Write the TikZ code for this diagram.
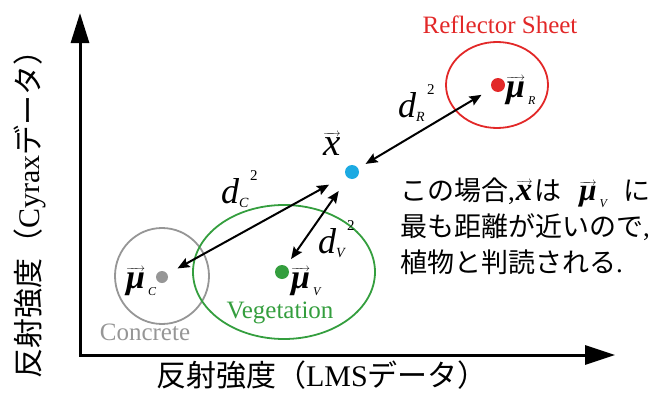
\documentclass[tikz,border=0pt]{standalone}
\usepackage{fontspec}
\setmainfont{Liberation Serif}
\newfontfamily\jp{Noto Sans CJK JP}
\usetikzlibrary{arrows.meta,shapes.geometric}
\definecolor{refred}{RGB}{226,40,40}
\definecolor{veggreen}{RGB}{52,158,62}
\definecolor{congray}{RGB}{150,150,150}
\definecolor{ptblue}{RGB}{28,170,226}
\newcommand\vecsym[1]{\leavevmode\vbox{\offinterlineskip\halign{##\cr{\fontsize{11}{11}\selectfont\rightarrowfill}\cr\noalign{\kern0.5pt}\hbox{#1}\cr}}}
\newcommand\mulab[1]{\vecsym{\bfseries\itshape μ}\kern3pt\raisebox{-7pt}{\fontsize{12}{12}\selectfont\itshape #1}}
\newcommand\dlab[1]{{\itshape d}\rlap{\raisebox{-4pt}{\fontsize{14}{14}\selectfont\itshape #1}}\hspace{11pt}\raisebox{23pt}{\fontsize{15}{15}\selectfont 2}}
\tikzset{
  dot/.style={circle, inner sep=0pt, minimum size=14pt},
  region/.style={ellipse, draw, inner sep=0pt, line width=1.8pt},
  dist/.style={line width=2pt, >={Stealth[length=12pt,width=10pt,inset=2pt]}, <->},
  axis/.style={line width=3pt, arrows={Triangle[length=30pt,width=18pt]-Triangle[length=30pt,width=19pt]}},
  cls/.style={font=\fontsize{25}{30}\selectfont, inner sep=0pt},
  sym/.style={font=\fontsize{34}{38}\selectfont, inner sep=0pt},
  dsym/.style={font=\fontsize{36}{40}\selectfont, inner sep=0pt, anchor=base west},
  note/.style={font=\fontsize{27}{34}\selectfont, inner sep=0pt, anchor=base west},
  axlabel/.style={font=\fontsize{30}{36}\selectfont, inner sep=0pt}
}
\begin{document}
\begin{tikzpicture}[x=1pt,y=-1pt]
\useasboundingbox (0,0) rectangle (665,407);
% axes
\coordinate (O) at (80,355);
\coordinate (Ytop) at (80,13);
\coordinate (Xend) at (615,355);
\draw[axis] (Ytop) -- (O) -- (Xend);
\node[axlabel, rotate=90] (ylab) at (30,207) {{\jp 反射強度（}Cyrax{\jp データ）}};
\node[axlabel] (xlab) at (322,375) {{\jp 反射強度（}LMS{\jp データ）}};
% regions
\node[region, draw=refred, minimum width=102pt, minimum height=86pt] (regR) at (497,85) {};
\node[region, draw=congray, minimum width=94pt, minimum height=96pt] (regC) at (162,276) {};
\node[region, draw=veggreen, minimum width=182pt, minimum height=134pt] (regV) at (284,272) {};
% dots
\node[dot, fill=refred] (muR) at (498,85) {};
\node[dot, fill=ptblue] (xdot) at (352,172) {};
\node[dot, fill=veggreen] (muV) at (282,272) {};
\node[dot, fill=congray, minimum size=12pt] (muC) at (162,277) {};
% class names
\node[cls, text=refred, anchor=base] (tR) at (500,33) {Reflector Sheet};
\node[cls, text=veggreen, anchor=base] (tV) at (280,318) {Vegetation};
\node[cls, text=congray, anchor=base] (tC) at (145,340) {Concrete};
% symbols
\node[sym, anchor=base west] (lmuR) at (506,97) {\mulab{R}};
\node[sym, anchor=base west] (lmuV) at (291,288) {\mulab{V}};
\node[sym, anchor=base west] (lmuC) at (126,288) {\mulab{C}};
\node[sym, anchor=base west, font=\fontsize{39}{40}\selectfont] (lx) at (323,155) {\vecsym{\itshape x}};
\node[dsym] (ldR) at (398,117) {\dlab{R}};
\node[dsym] (ldC) at (221,203) {\dlab{C}};
\node[dsym] (ldV) at (318,253) {\dlab{V}};
% distances
\draw[dist, shorten <=8.6pt, shorten >=12pt] (xdot) -- (muR);
\draw[dist, shorten <=11.5pt, shorten >=19pt] (muC) -- (xdot);
\draw[dist, shorten <=8.6pt, shorten >=16pt] (muV) -- (xdot);
% note
\node[note] (n1) at (400,200) {{\jp この場合},\kern1pt\vecsym{\fontsize{33}{33}\selectfont\bfseries\itshape x}\kern2pt{\jp は}\hspace{18pt}{\fontsize{31}{32}\selectfont\mulab{V}}\hspace{16pt}{\jp に}};
\node[note] (n2) at (400,236) {{\jp 最も距離が近いので},};
\node[note] (n3) at (400,272) {{\jp 植物と判読される}.};
\end{tikzpicture}
\end{document}
